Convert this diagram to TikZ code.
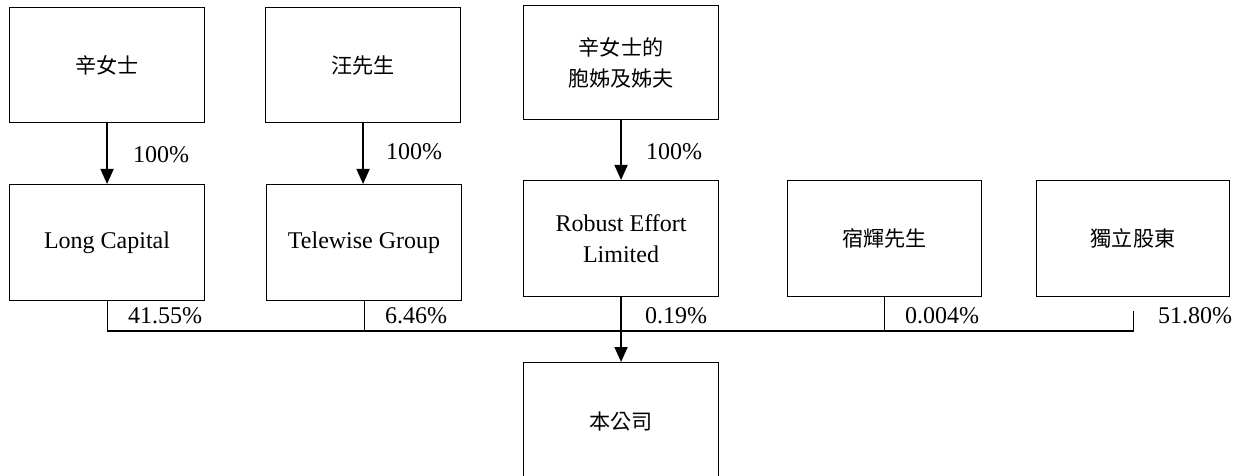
\documentclass[tikz,border=0pt]{standalone}
\usepackage{fontspec}
\setmainfont{Liberation Serif}
\newfontfamily\cjk{Noto Sans CJK TC}[Scale=0.88]
\usetikzlibrary{arrows.meta}
\begin{document}
\begin{tikzpicture}[x=1pt,y=-1pt,
  box/.style={draw, line width=1.1pt, minimum width=195pt, minimum height=115pt,
    inner sep=0pt, align=center, anchor=north west, font=\fontsize{24}{31}\selectfont},
  arr/.style={line width=1.6pt, -{Triangle[length=15pt,width=13pt]}},
  conn/.style={line width=1.1pt},
  busthick/.style={line width=1.8pt},
  pct/.style={anchor=west, inner sep=0pt, font=\fontsize{24}{26}\selectfont}]
\useasboundingbox (0,0) rectangle (1237,476);
\node[box] (a) at (9,7) {\cjk 辛女士};
\node[box] (b) at (265,7) {\cjk 汪先生};
\node[box, minimum height=114pt] (c) at (523,5) {\cjk 辛女士的\\\cjk 胞姊及姊夫};
\node[box, minimum height=116pt] (d) at (9,184) {Long Capital};
\node[box, minimum height=116pt] (e) at (266,184) {Telewise Group};
\node[box, minimum height=116pt] (f) at (523,180) {Robust Effort\\Limited};
\node[box, minimum height=116pt, minimum width=194pt] (g) at (787,180) {\cjk 宿輝先生};
\node[box, minimum height=116pt, minimum width=193pt] (h) at (1036,180) {\cjk 獨立股東};
\node[box, minimum height=117pt] (i) at (523,362) {\cjk 本公司};
\coordinate (bus) at (0,331);
\draw[arr] (a.south) -- (a.south |- d.north);
\draw[arr] (b.south) -- (b.south |- e.north);
\draw[arr] (c.south) -- (c.south |- f.north);
\draw[conn] (d.south) -- (d.south |- bus) -- (e.south |- bus);
\draw[conn] (e.south) -- (e.south |- bus);
\draw[busthick] (e.south |- bus) -- (g.south |- bus);
\draw[conn] (g.south) -- (g.south |- bus) -- (h.south |- bus) -- ([yshift=-14pt]h.south);
\draw[arr] (f.south) -- (f.south |- i.north);
\node[pct] (p1) at (133,155) {100\%};
\node[pct] (p2) at (386,152) {100\%};
\node[pct] (p3) at (646,152) {100\%};
\node[pct] (q1) at (128,316) {41.55\%};
\node[pct] (q2) at (385,316) {6.46\%};
\node[pct] (q3) at (645,316) {0.19\%};
\node[pct] (q4) at (905,316) {0.004\%};
\node[pct] (q5) at (1158,316) {51.80\%};
\end{tikzpicture}
\end{document}
